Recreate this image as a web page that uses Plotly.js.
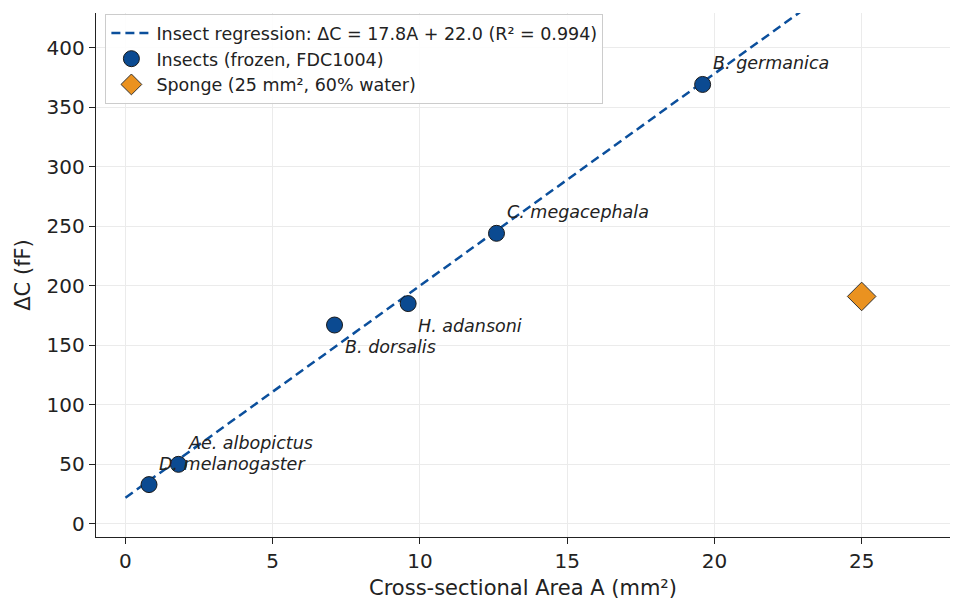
<!DOCTYPE html>
<html>
<head>
<meta charset="utf-8">
<script src="https://cdn.plot.ly/plotly-3.0.1.min.js"></script>
<style>html,body{margin:0;padding:0;background:#fff;}#chart{width:964px;height:611px;}</style>
</head>
<body>
<div id="chart"></div>
<script>
// Insect data (cross-sectional area mm², ΔC fF)
const insectNames = ["D. melanogaster", "Ae. albopictus", "B. dorsalis", "H. adansoni", "C. megacephala", "B. germanica"];
const insectArea = [0.8, 1.8, 7.1, 9.6, 12.6, 19.6];
const insectDeltaC = [33, 50, 167, 185, 244, 369];
// Sponge
const spongeArea = [25];
const spongeDeltaC = [191];
// Regression coefficients
const slope = 17.8;
const intercept = 22.0;
const r2 = 0.994;
const regX = [0, 28];
// label placement: true places the label under the point
const labelBelow = [false, false, true, true, false, false];

const regY = regX.map(x => slope * x + intercept);

const traces = [
  {
    x: regX, y: regY, mode: 'lines', type: 'scatter',
    name: 'Insect regression: ΔC = ' + slope.toFixed(1) + 'A + ' + intercept.toFixed(1) + ' (R² = ' + r2.toFixed(3) + ')',
    line: {color: '#0b4f9c', width: 2.5, dash: '9px,5px'}
  },
  {
    x: insectArea, y: insectDeltaC, mode: 'markers', type: 'scatter',
    name: 'Insects (frozen, FDC1004)',
    marker: {color: '#0b4a91', size: 16, line: {color: '#1a1a1a', width: 1}}
  },
  {
    x: spongeArea, y: spongeDeltaC, mode: 'markers', type: 'scatter',
    name: 'Sponge (25 mm², 60% water)',
    marker: {color: '#ea9220', symbol: 'diamond', size: 22, line: {color: '#333', width: 1}}
  }
];

const annotations = insectNames.map((n, i) => ({
  x: insectArea[i], y: insectDeltaC[i], xref: 'x', yref: 'y',
  text: '<i>' + n + '</i>', showarrow: false, xanchor: 'left', yanchor: 'middle',
  xshift: 8, yshift: labelBelow[i] ? -22 : 21,
  font: {family: 'DejaVu Sans', size: 17.5, color: '#222'}
}));

const layout = {
  width: 964, height: 611,
  margin: {l: 96, r: 14, t: 13, b: 74},
  paper_bgcolor: '#fff', plot_bgcolor: '#fff',
  font: {family: 'DejaVu Sans', color: '#222'},
  showlegend: true,
  legend: {
    x: 0.011, y: 0.998, xanchor: 'left', yanchor: 'top',
    bgcolor: 'rgba(255,255,255,0.9)', bordercolor: '#cccccc', borderwidth: 1,
    font: {family: 'DejaVu Sans', size: 17.5, color: '#222'},
    tracegroupgap: 0, itemwidth: 40
  },
  xaxis: {
    range: [-1, 28], tickvals: [0, 5, 10, 15, 20, 25],
    showgrid: true, gridcolor: '#ebebeb', gridwidth: 1, zeroline: false,
    showline: true, linecolor: '#222', linewidth: 1.2,
    ticks: 'outside', ticklen: 6, tickcolor: '#222',
    tickfont: {family: 'DejaVu Sans', size: 20, color: '#222'},
    title: {text: 'Cross-sectional Area A (mm²)', font: {family: 'DejaVu Sans', size: 21, color: '#222'}, standoff: 8}
  },
  yaxis: {
    range: [-11, 429], tickvals: [0, 50, 100, 150, 200, 250, 300, 350, 400],
    showgrid: true, gridcolor: '#ebebeb', gridwidth: 1, zeroline: false,
    showline: true, linecolor: '#222', linewidth: 1.2,
    ticks: 'outside', ticklen: 6, tickcolor: '#222',
    tickfont: {family: 'DejaVu Sans', size: 20, color: '#222'},
    title: {text: 'ΔC (fF)', font: {family: 'DejaVu Sans', size: 21, color: '#222'}, standoff: 10}
  },
  annotations: annotations
};

Plotly.newPlot('chart', traces, layout, {staticPlot: true, displayModeBar: false});
</script>
</body>
</html>
